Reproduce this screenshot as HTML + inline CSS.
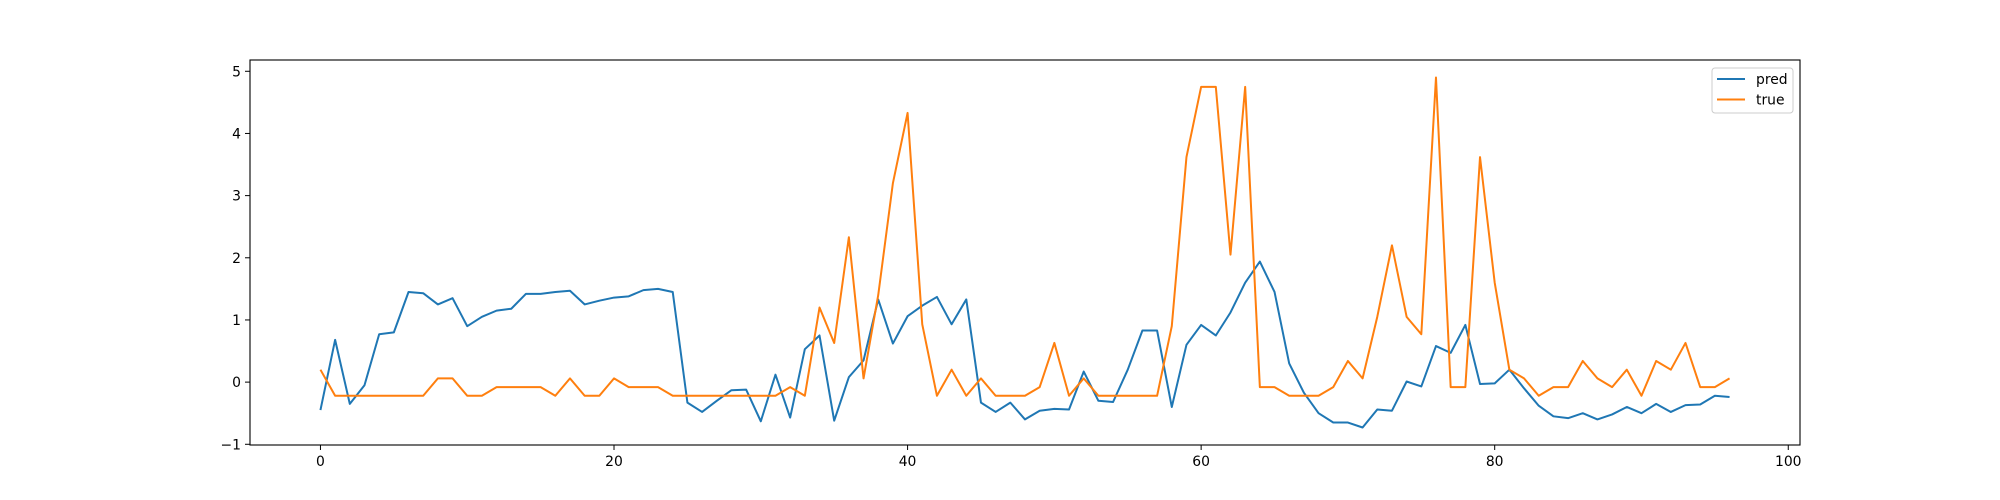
<!DOCTYPE html>
<html><head><meta charset="utf-8"><style>
body{margin:0;background:#fff;}
svg{display:block;font-family:"DejaVu Sans","Liberation Sans",sans-serif;}
</style></head><body>
<svg id="chart" width="2000" height="500" xmlns="http://www.w3.org/2000/svg">
<rect width="2000" height="500" fill="#fff"/>
<g id="plot"></g>
</svg>
<script>
const pred = [-0.45,0.68,-0.35,-0.05,0.77,0.8,1.45,1.43,1.25,1.35,0.9,1.05,1.15,1.18,1.42,1.42,1.45,1.47,1.25,1.31,1.36,1.38,1.48,1.5,1.45,-0.33,-0.48,-0.3,-0.13,-0.12,-0.63,0.12,-0.57,0.53,0.75,-0.62,0.08,0.35,1.33,0.62,1.06,1.23,1.37,0.93,1.33,-0.33,-0.48,-0.33,-0.6,-0.46,-0.43,-0.44,0.17,-0.3,-0.32,0.2,0.83,0.83,-0.4,0.6,0.92,0.75,1.12,1.6,1.94,1.45,0.3,-0.17,-0.5,-0.65,-0.65,-0.73,-0.44,-0.46,0.01,-0.07,0.58,0.47,0.92,-0.03,-0.02,0.2,-0.1,-0.38,-0.55,-0.58,-0.5,-0.6,-0.52,-0.4,-0.5,-0.35,-0.48,-0.37,-0.36,-0.22,-0.24];
const truth = [0.2,-0.22,-0.22,-0.22,-0.22,-0.22,-0.22,-0.22,0.06,0.06,-0.22,-0.22,-0.08,-0.08,-0.08,-0.08,-0.22,0.06,-0.22,-0.22,0.06,-0.08,-0.08,-0.08,-0.22,-0.22,-0.22,-0.22,-0.22,-0.22,-0.22,-0.22,-0.08,-0.22,1.2,0.63,2.33,0.06,1.4,3.2,4.33,0.93,-0.22,0.2,-0.22,0.06,-0.22,-0.22,-0.22,-0.08,0.63,-0.22,0.06,-0.22,-0.22,-0.22,-0.22,-0.22,0.9,3.62,4.75,4.75,2.05,4.75,-0.08,-0.08,-0.22,-0.22,-0.22,-0.08,0.34,0.06,1.05,2.2,1.05,0.77,4.9,-0.08,-0.08,3.62,1.6,0.2,0.06,-0.22,-0.08,-0.08,0.34,0.06,-0.08,0.2,-0.22,0.34,0.2,0.63,-0.08,-0.08,0.06];
const xTicks = [0,20,40,60,80,100];
const yTicks = [-1,0,1,2,3,4,5];
const seriesNames = ["pred","true"];

const NS="http://www.w3.org/2000/svg";
const L=250,R=1800,T=60,B=445;
const n=pred.length;
const xmin=-(n-1)*0.05, xmax=(n-1)*1.05;
const all=pred.concat(truth);
const dmin=Math.min(...all), dmax=Math.max(...all), dr=dmax-dmin;
const ymin=dmin-dr*0.05, ymax=dmax+dr*0.05;
const xs=v=>L+(v-xmin)/(xmax-xmin)*(R-L);
const ys=v=>B-(v-ymin)/(ymax-ymin)*(B-T);
const g=document.getElementById('plot');
function mk(tag,attrs){const e=document.createElementNS(NS,tag);for(const k in attrs)e.setAttribute(k,attrs[k]);g.appendChild(e);return e;}

const colors=["#1f77b4","#ff7f0e"];
[pred,truth].forEach((s,i)=>{
  const p=mk('polyline',{points:s.map((v,j)=>xs(j).toFixed(2)+','+ys(v).toFixed(2)).join(' '),fill:'none',stroke:colors[i],'stroke-width':2,'stroke-linejoin':'round'});
  
  
});

const frame=mk('rect',{x:L,y:T,width:R-L,height:B-T,fill:'none',stroke:'#000','stroke-width':1.1});



xTicks.forEach(t=>{
  const x=xs(t);
  const tk=mk('line',{x1:x,x2:x,y1:B,y2:B+5,stroke:'#000','stroke-width':1});
  
  
  const lb=mk('text',{x:x,y:B+21,'text-anchor':'middle','font-size':'13.9px',fill:'#000'});
  lb.textContent=t;
  
  
});
yTicks.forEach(t=>{
  const y=ys(t);
  const tk=mk('line',{x1:L-5,x2:L,y1:y,y2:y,stroke:'#000','stroke-width':1});
  
  
  const lb=mk('text',{x:L-9,y:y+5,'text-anchor':'end','font-size':'13.9px',fill:'#000'});
  lb.textContent=t<0?'\u2212'+(-t):t;
  
  
});

const lg=mk('rect',{x:1712,y:68,width:81,height:45,rx:3,fill:'#fff','fill-opacity':0.8,stroke:'#ccc','stroke-width':1});


seriesNames.forEach((nm,i)=>{
  const y=79+i*20.5;
  const ln=mk('line',{x1:1717,x2:1745,y1:y,y2:y,stroke:colors[i],'stroke-width':2});
  
  
  const tx=mk('text',{x:1756,y:y+5,'font-size':'13.9px',fill:'#000'});
  tx.textContent=nm;
  
  
});
</script>
</body></html>
